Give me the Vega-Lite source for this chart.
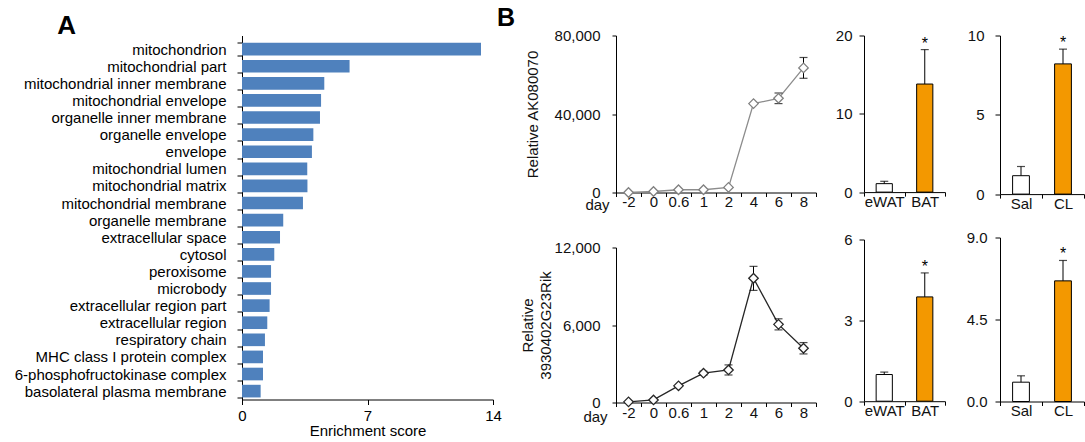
{
  "$schema": "https://vega.github.io/schema/vega-lite/v6.json",
  "padding": {"left": 14, "top": 5.5, "right": 0, "bottom": 0},
  "background": "white",
  "config": {
    "font": "Liberation Sans",
    "view": {"stroke": null},
    "axis": {"domainColor": "#000", "tickColor": "#000", "labelColor": "#111", "titleColor": "#111", "labelFont": "Liberation Sans", "titleFont": "Liberation Sans", "labelFontSize": 15, "titleFontSize": 15, "titleFontWeight": "normal", "grid": false, "domainWidth": 1, "tickWidth": 1, "labelFlush": false},
    "title": {"font": "Liberation Sans", "fontWeight": "bold", "color": "#000", "anchor": "start", "frame": "bounds"}
  },
  "spacing": -5,
  "hconcat": [
    {
      "title": {"text": "A", "fontSize": 26, "dx": 43, "offset": -10.5},
      "width": 251,
      "height": 364,
      "data": {"values": [
        {"term": "mitochondrion", "score": 13.33},
        {"term": "mitochondrial part", "score": 6.0},
        {"term": "mitochondrial inner membrane", "score": 4.59},
        {"term": "mitochondrial envelope", "score": 4.41},
        {"term": "organelle inner membrane", "score": 4.35},
        {"term": "organelle envelope", "score": 3.98},
        {"term": "envelope", "score": 3.9},
        {"term": "mitochondrial lumen", "score": 3.64},
        {"term": "mitochondrial matrix", "score": 3.65},
        {"term": "mitochondrial membrane", "score": 3.4},
        {"term": "organelle membrane", "score": 2.3},
        {"term": "extracellular space", "score": 2.12},
        {"term": "cytosol", "score": 1.8},
        {"term": "peroxisome", "score": 1.62},
        {"term": "microbody", "score": 1.62},
        {"term": "extracellular region part", "score": 1.54},
        {"term": "extracellular region", "score": 1.41},
        {"term": "respiratory chain", "score": 1.28},
        {"term": "MHC class I protein complex", "score": 1.17},
        {"term": "6-phosphofructokinase complex", "score": 1.17},
        {"term": "basolateral plasma membrane", "score": 1.04}
      ]},
      "mark": {"type": "bar", "color": "#4F81BD"},
      "encoding": {
        "y": {"field": "term", "type": "nominal", "sort": null,
          "scale": {"paddingInner": 0.26, "paddingOuter": 0.273, "align": 0.78},
          "axis": {"title": null, "tickBand": "extent", "tickSize": 5, "labelPadding": 11, "labelLimit": 400, "labelColor": "#000"}},
        "x": {"field": "score", "type": "quantitative",
          "scale": {"domain": [0, 14], "nice": false},
          "axis": {"values": [0, 7, 14], "title": "Enrichment score", "tickSize": 5, "labelPadding": 4, "titlePadding": 0, "labelColor": "#000", "titleColor": "#000"}}
      }
    },
    {
      "title": {"text": "B", "fontSize": 25, "dx": -23, "offset": -2},
      "spacing": 18,
      "hconcat": [
        {
          "spacing": 28,
          "vconcat": [
            {
              "width": 200,
              "height": 157,
              "data": {"values": [
                {"day": "-2", "v": 0},
                {"day": "0", "v": 500},
                {"day": "0.6", "v": 1400},
                {"day": "1", "v": 1400},
                {"day": "2", "v": 2600},
                {"day": "4", "v": 45300},
                {"day": "6", "v": 48000, "lo": 45300, "hi": 50700},
                {"day": "8", "v": 63500, "lo": 58200, "hi": 68800}
              ]},
              "encoding": {
                "x": {"field": "day", "type": "ordinal", "sort": null,
                  "scale": {"type": "band", "paddingInner": 0, "paddingOuter": 0},
                  "axis": {"title": "day", "titleX": -19, "titleY": 12, "titleAlign": "center", "titleBaseline": "middle", "titleAngle": 0, "tickBand": "extent", "labelAngle": 0, "tickSize": 4, "labelPadding": -2}}
              },
              "layer": [
                {"mark": {"type": "line", "color": "#8c8c8c", "strokeWidth": 1.3},
                 "encoding": {"y": {"field": "v", "type": "quantitative", "scale": {"domain": [0, 80000], "nice": false},
                   "axis": {"values": [0, 40000, 80000], "format": ",.0f", "title": "Relative AK080070", "tickSize": 4, "labelPadding": 12, "minExtent": 62, "maxExtent": 62, "titlePadding": 14}}}},
                {"transform": [{"filter": "isValid(datum.hi)"}],
                 "mark": {"type": "rule", "color": "#000"},
                 "encoding": {"y": {"field": "lo", "type": "quantitative"}, "y2": {"field": "hi"}}},
                {"transform": [{"filter": "isValid(datum.hi)"}],
                 "mark": {"type": "tick", "orient": "horizontal", "size": 8, "thickness": 1.2, "color": "#000"},
                 "encoding": {"y": {"field": "lo", "type": "quantitative"}}},
                {"transform": [{"filter": "isValid(datum.hi)"}],
                 "mark": {"type": "tick", "orient": "horizontal", "size": 8, "thickness": 1.2, "color": "#000"},
                 "encoding": {"y": {"field": "hi", "type": "quantitative"}}},
                {"mark": {"type": "point", "shape": "diamond", "filled": true, "fill": "white", "stroke": "#7f7f7f", "strokeWidth": 1.3, "size": 90, "opacity": 1},
                 "encoding": {"y": {"field": "v", "type": "quantitative"}}}
              ]
            },
            {
              "width": 200,
              "height": 155,
              "data": {"values": [
                {"day": "-2", "v": 50},
                {"day": "0", "v": 200},
                {"day": "0.6", "v": 1290},
                {"day": "1", "v": 2270, "lo": 2120, "hi": 2420},
                {"day": "2", "v": 2520, "lo": 2130, "hi": 2910},
                {"day": "4", "v": 9620, "lo": 8680, "hi": 10540},
                {"day": "6", "v": 6050, "lo": 5620, "hi": 6480},
                {"day": "8", "v": 4200, "lo": 3760, "hi": 4640}
              ]},
              "encoding": {
                "x": {"field": "day", "type": "ordinal", "sort": null,
                  "scale": {"type": "band", "paddingInner": 0, "paddingOuter": 0},
                  "axis": {"title": "day", "titleX": -21, "titleY": 14, "titleAlign": "center", "titleBaseline": "middle", "titleAngle": 0, "tickBand": "extent", "labelAngle": 0, "tickSize": 4, "labelPadding": -1}}
              },
              "layer": [
                {"mark": {"type": "line", "color": "#262626", "strokeWidth": 1.3},
                 "encoding": {"y": {"field": "v", "type": "quantitative", "scale": {"domain": [0, 12000], "nice": false},
                   "axis": {"values": [0, 6000, 12000], "format": ",.0f", "title": ["Relative", "3930402G23Rik"], "titleLineHeight": 18, "tickSize": 4, "labelPadding": 12, "minExtent": 62, "maxExtent": 62, "titlePadding": 1}}}},
                {"transform": [{"filter": "isValid(datum.hi)"}],
                 "mark": {"type": "rule", "color": "#000"},
                 "encoding": {"y": {"field": "lo", "type": "quantitative"}, "y2": {"field": "hi"}}},
                {"transform": [{"filter": "isValid(datum.hi)"}],
                 "mark": {"type": "tick", "orient": "horizontal", "size": 8, "thickness": 1.2, "color": "#000"},
                 "encoding": {"y": {"field": "lo", "type": "quantitative"}}},
                {"transform": [{"filter": "isValid(datum.hi)"}],
                 "mark": {"type": "tick", "orient": "horizontal", "size": 8, "thickness": 1.2, "color": "#000"},
                 "encoding": {"y": {"field": "hi", "type": "quantitative"}}},
                {"mark": {"type": "point", "shape": "diamond", "filled": true, "fill": "white", "stroke": "#262626", "strokeWidth": 1.3, "size": 90, "opacity": 1},
                 "encoding": {"y": {"field": "v", "type": "quantitative"}}}
              ]
            }
          ]
        },
        {
          "spacing": 20,
          "hconcat": [
            {
              "spacing": 23,
              "vconcat": [
                {
                  "width": 81,
                  "height": 156.6,
                  "data": {"values": [
                    {"t": "eWAT", "v": 1.08, "hi": 1.38, "sig": ""},
                    {"t": "BAT", "v": 13.8, "hi": 18.2, "sig": "*"}
                  ]},
                  "encoding": {"x": {"field": "t", "type": "nominal", "sort": null, "scale": {"paddingInner": 0, "paddingOuter": 0},
                    "axis": {"title": null, "labelAngle": 0, "tickBand": "extent", "tickSize": 4, "labelPadding": -2}}},
                  "layer": [
                    {"mark": {"type": "bar", "stroke": "#000", "strokeWidth": 1, "width": {"band": 0.4}},
                     "encoding": {"y": {"field": "v", "type": "quantitative", "scale": {"domain": [0, 20], "nice": false},
                       "axis": {"values": [0, 10, 20], "title": null, "tickSize": 5, "labelPadding": 7, "minExtent": 28.7, "maxExtent": 28.7}},
                       "color": {"field": "t", "type": "nominal", "scale": {"domain": ["eWAT", "BAT"], "range": ["#ffffff", "#F39800"]}, "legend": null}}},
                    {"mark": {"type": "rule", "color": "#000"},
                     "encoding": {"y": {"field": "v", "type": "quantitative"}, "y2": {"field": "hi"}}},
                    {"mark": {"type": "tick", "orient": "horizontal", "size": 8, "thickness": 1.2, "color": "#000"},
                     "encoding": {"y": {"field": "hi", "type": "quantitative"}}},
                    {"mark": {"type": "text", "fontSize": 16, "baseline": "alphabetic", "dy": -1, "color": "#000"},
                     "encoding": {"y": {"field": "hi", "type": "quantitative"}, "text": {"field": "sig"}}}
                  ]
                },
                {
                  "width": 81,
                  "height": 161.7,
                  "data": {"values": [
                    {"t": "eWAT", "v": 0.99, "hi": 1.08, "sig": ""},
                    {"t": "BAT", "v": 3.87, "hi": 4.76, "sig": "*"}
                  ]},
                  "encoding": {"x": {"field": "t", "type": "nominal", "sort": null, "scale": {"paddingInner": 0, "paddingOuter": 0},
                    "axis": {"title": null, "labelAngle": 0, "tickBand": "extent", "tickSize": 4, "labelPadding": -2}}},
                  "layer": [
                    {"mark": {"type": "bar", "stroke": "#000", "strokeWidth": 1, "width": {"band": 0.4}},
                     "encoding": {"y": {"field": "v", "type": "quantitative", "scale": {"domain": [0, 6], "nice": false},
                       "axis": {"values": [0, 3, 6], "title": null, "tickSize": 5, "labelPadding": 7, "minExtent": 28.7, "maxExtent": 28.7}},
                       "color": {"field": "t", "type": "nominal", "scale": {"domain": ["eWAT", "BAT"], "range": ["#ffffff", "#F39800"]}, "legend": null}}},
                    {"mark": {"type": "rule", "color": "#000"},
                     "encoding": {"y": {"field": "v", "type": "quantitative"}, "y2": {"field": "hi"}}},
                    {"mark": {"type": "tick", "orient": "horizontal", "size": 8, "thickness": 1.2, "color": "#000"},
                     "encoding": {"y": {"field": "hi", "type": "quantitative"}}},
                    {"mark": {"type": "text", "fontSize": 16, "baseline": "alphabetic", "dy": -1, "color": "#000"},
                     "encoding": {"y": {"field": "hi", "type": "quantitative"}, "text": {"field": "sig"}}}
                  ]
                }
              ]
            },
            {
              "spacing": 19,
              "vconcat": [
                {
                  "width": 84,
                  "height": 158.6,
                  "data": {"values": [
                    {"t": "Sal", "v": 1.16, "hi": 1.74, "sig": ""},
                    {"t": "CL", "v": 8.21, "hi": 9.14, "sig": "*"}
                  ]},
                  "encoding": {"x": {"field": "t", "type": "nominal", "sort": null, "scale": {"paddingInner": 0, "paddingOuter": 0},
                    "axis": {"title": null, "labelAngle": 0, "tickBand": "extent", "tickSize": 4, "labelPadding": -2}}},
                  "layer": [
                    {"mark": {"type": "bar", "stroke": "#000", "strokeWidth": 1, "width": {"band": 0.4}},
                     "encoding": {"y": {"field": "v", "type": "quantitative", "scale": {"domain": [0, 10], "nice": false},
                       "axis": {"values": [0, 5, 10], "title": null, "tickSize": 5, "labelPadding": 11, "minExtent": 33, "maxExtent": 33}},
                       "color": {"field": "t", "type": "nominal", "scale": {"domain": ["Sal", "CL"], "range": ["#ffffff", "#000000"]}, "legend": null}}},
                    {"mark": {"type": "rule", "color": "#000"},
                     "encoding": {"y": {"field": "v", "type": "quantitative"}, "y2": {"field": "hi"}}},
                    {"mark": {"type": "tick", "orient": "horizontal", "size": 8, "thickness": 1.2, "color": "#000"},
                     "encoding": {"y": {"field": "hi", "type": "quantitative"}}},
                    {"mark": {"type": "text", "fontSize": 16, "baseline": "alphabetic", "dy": -1, "color": "#000"},
                     "encoding": {"y": {"field": "hi", "type": "quantitative"}, "text": {"field": "sig"}}}
                  ]
                },
                {
                  "width": 84,
                  "height": 164,
                  "data": {"values": [
                    {"t": "Sal", "v": 1.06, "hi": 1.41, "sig": ""},
                    {"t": "CL", "v": 6.62, "hi": 7.74, "sig": "*"}
                  ]},
                  "encoding": {"x": {"field": "t", "type": "nominal", "sort": null, "scale": {"paddingInner": 0, "paddingOuter": 0},
                    "axis": {"title": null, "labelAngle": 0, "tickBand": "extent", "tickSize": 4, "labelPadding": -2}}},
                  "layer": [
                    {"mark": {"type": "bar", "stroke": "#000", "strokeWidth": 1, "width": {"band": 0.4}},
                     "encoding": {"y": {"field": "v", "type": "quantitative", "scale": {"domain": [0, 9], "nice": false},
                       "axis": {"values": [0, 4.5, 9], "format": ".1f", "title": null, "tickSize": 5, "labelPadding": 8, "minExtent": 33, "maxExtent": 33}},
                       "color": {"field": "t", "type": "nominal", "scale": {"domain": ["Sal", "CL"], "range": ["#ffffff", "#000000"]}, "legend": null}}},
                    {"mark": {"type": "rule", "color": "#000"},
                     "encoding": {"y": {"field": "v", "type": "quantitative"}, "y2": {"field": "hi"}}},
                    {"mark": {"type": "tick", "orient": "horizontal", "size": 8, "thickness": 1.2, "color": "#000"},
                     "encoding": {"y": {"field": "hi", "type": "quantitative"}}},
                    {"mark": {"type": "text", "fontSize": 16, "baseline": "alphabetic", "dy": -1, "color": "#000"},
                     "encoding": {"y": {"field": "hi", "type": "quantitative"}, "text": {"field": "sig"}}}
                  ]
                }
              ]
            }
          ]
        }
      ]
    }
  ]
}
